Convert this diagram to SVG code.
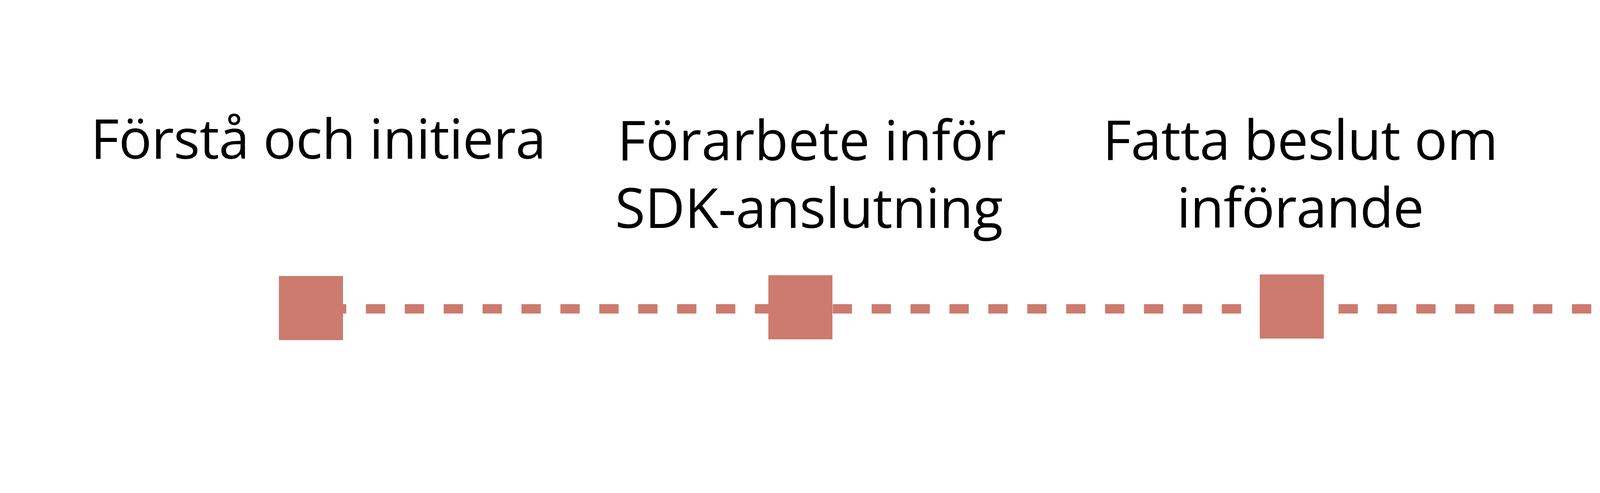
<svg xmlns="http://www.w3.org/2000/svg" width="6379" height="1261" viewBox="0 0 6379 1261">
  <style>
    .lbl { font-family: "Open Sans", "Noto Sans", "DejaVu Sans", sans-serif; font-size: 141px; fill: #000000; text-anchor: middle; }
    .node { fill: #CD7A6F; }
    .conn { stroke: #CD7A6F; stroke-width: 24; fill: none; stroke-dasharray: 49.4 50.2; }
  </style>
  <rect x="0" y="0" width="6379" height="1261" fill="#FFFFFF"/>
  <g id="connectors">
    <line class="conn" x1="837" y1="790" x2="5812" y2="790"/>
  </g>
  <g id="node1">
    <rect class="node" x="714" y="706" width="164" height="164"/>
    <text class="lbl" x="815" y="406" textLength="1166">Förstå och initiera</text>
  </g>
  <g id="node2">
    <rect class="node" x="1967" y="704" width="164" height="164"/>
    <text class="lbl" x="2078" y="410" textLength="995">Förarbete inför</text>
    <text class="lbl" x="2071" y="583" textLength="993">SDK-anslutning</text>
  </g>
  <g id="node3">
    <rect class="node" x="3225" y="702" width="164" height="164"/>
    <text class="lbl" x="3329" y="409" textLength="1012">Fatta beslut om</text>
    <text class="lbl" x="3329" y="582" textLength="633">införande</text>
  </g>
  <g id="node4">
    <rect class="node" x="4477" y="703" width="164" height="164"/>
    <text class="lbl" x="4582" y="406" textLength="692">Införa SDK</text>
  </g>
  <g id="node5">
    <rect class="node" x="5730" y="703" width="164" height="164"/>
    <text class="lbl" x="5812" y="404" textLength="641">Införa nya</text>
    <text class="lbl" x="5812" y="577" textLength="673">arbetssätt</text>
  </g>
</svg>
